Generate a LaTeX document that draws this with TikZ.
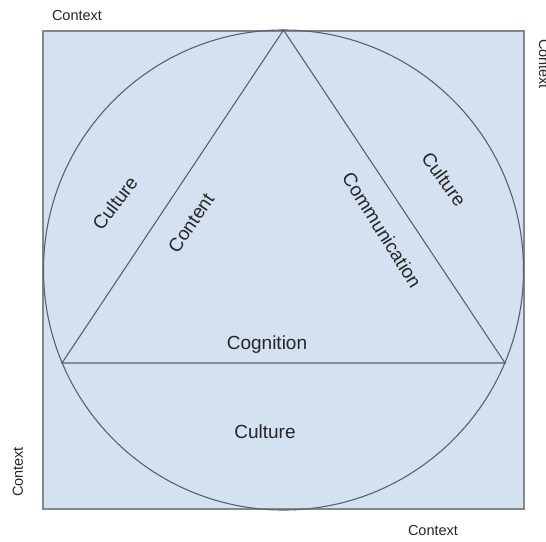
\documentclass[tikz,border=0pt]{standalone}
\usepackage{fontspec}
\setmainfont{Liberation Sans}
\usepackage{tikz}
\usetikzlibrary{positioning}
\definecolor{paleblue}{RGB}{211,225,241}
\definecolor{lineclr}{RGB}{88,98,110}
\definecolor{boxclr}{RGB}{130,136,146}

\begin{document}
\begin{tikzpicture}[x=1pt,y=-1pt,
  every node/.style={inner sep=0pt,text=black!85},
  ctx/.style={font=\fontsize{14.5}{16}\selectfont},
  lbl/.style={font=\fontsize{19}{21}\selectfont},
  edge/.style={draw=lineclr,line width=1.1pt}]
\useasboundingbox (0,0) rectangle (546,541);
% frame
\filldraw[fill=paleblue,draw=boxclr,line width=1.4pt] (43,31) rectangle (524,509);
\coordinate (ctr) at (283.5,270);
\coordinate (top) at (283.5,30);
\coordinate (bl) at (62,363);
\coordinate (br) at (505,363);
\draw[edge] (ctr) circle[radius=240];
\draw[edge] (top) -- (bl) -- (br) -- cycle;
% labels
\node[lbl,rotate=53] (cultl) at (115,203) {Culture};
\node[lbl,rotate=56] (cont) at (191,223) {Content};
\node[lbl,rotate=-58] (comm) at (382,230) {Communication};
\node[lbl,rotate=-54] (cultr) at (444,179) {Culture};
\node[lbl] (cogn) at (267,345) {Cognition};
\node[lbl] (cultb) at (265,432) {Culture};
% context
\node[ctx] (ctxt) at (77,16) {Context};
\node[ctx,rotate=-90] (ctxr) at (544,64) {Context};
\node[ctx,rotate=90] (ctxl) at (18,472) {Context};
\node[ctx] (ctxb) at (433,531) {Context};
\end{tikzpicture}
\end{document}
